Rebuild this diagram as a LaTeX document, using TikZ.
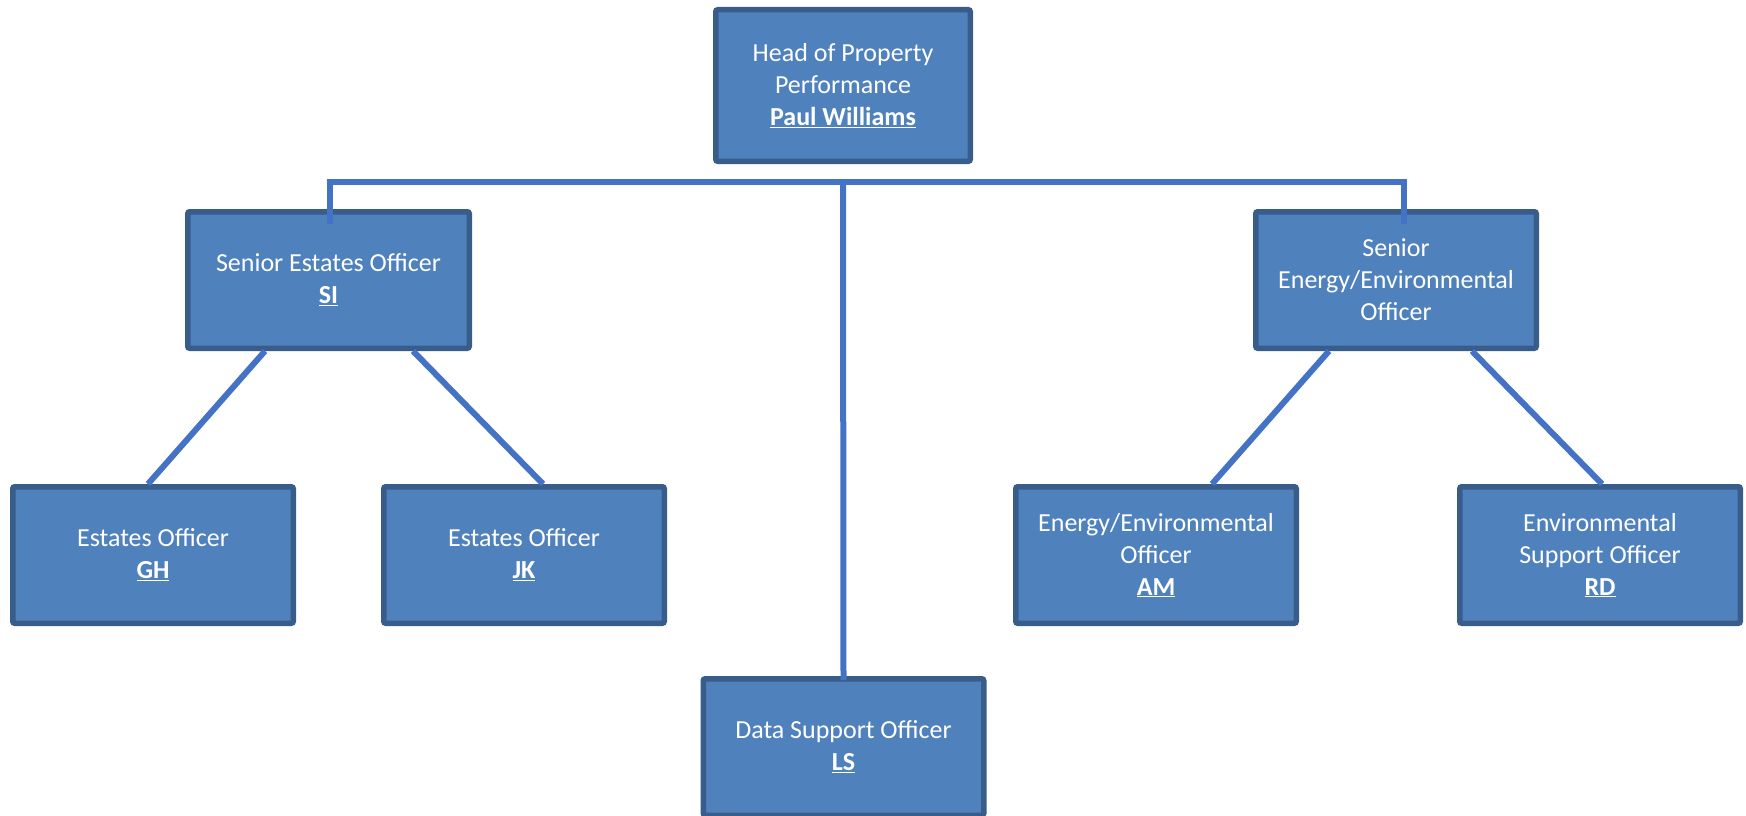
\documentclass[tikz,border=0pt]{standalone}
\usepackage{fontspec}
\setmainfont{Carlito}
\usetikzlibrary{calc}
\definecolor{boxfill}{HTML}{4F81BD}
\definecolor{boxline}{HTML}{385D8A}
\definecolor{conn}{HTML}{4472C4}
\begin{document}
\begin{tikzpicture}[x=1pt,y=-1pt,
  box/.style={draw=boxline, fill=boxfill, line width=5.5pt, rounded corners=2pt,
    text=white, align=center, inner sep=0pt, minimum width=280.5pt,
    minimum height=136.5pt, font=\fontsize{26}{32}\selectfont},
  link/.style={draw=conn, line width=6pt}]
\useasboundingbox (0,0) rectangle (1746,816);
\node[box, minimum width=254.5pt, minimum height=151.5pt] (head) at (843,85.5)
  {Head of Property\\Performance\\\textbf{\underline{Paul Williams}}};
\node[box, minimum width=281.5pt] (seo) at (328.5,280)
  {Senior Estates Officer\\\textbf{\underline{SI}}};
\node[box] (seneo) at (1396,280)
  {Senior\\Energy/Environmental\\Officer};
\node[box] (gh) at (153,555) {Estates Officer\\\textbf{\underline{GH}}};
\node[box] (jk) at (524,555) {Estates Officer\\\textbf{\underline{JK}}};
\node[box] (am) at (1156,555) {Energy/Environmental\\Officer\\\textbf{\underline{AM}}};
\node[box] (rd) at (1600,555) {Environmental\\Support Officer\\\textbf{\underline{RD}}};
\node[box] (data) at (843.5,747) {Data Support Officer\\\textbf{\underline{LS}}};
\coordinate (hub) at ($(head.south)+(0,18)$);
\draw[link] ([xshift=1pt,yshift=-15pt]seo.north) |- (hub) -| ([xshift=7.5pt,yshift=-15pt]seneo.north);
\draw[link] (hub) -- ([yshift=-4pt]data.north);
\draw[link] ([xshift=-63.5pt]seo.south) -- ([xshift=-5pt]gh.north);
\draw[link] ([xshift=84.5pt]seo.south) -- ([xshift=19pt]jk.north);
\draw[link] ([xshift=-67pt]seneo.south) -- ([xshift=56pt]am.north);
\draw[link] ([xshift=76pt]seneo.south) -- ([xshift=2pt]rd.north);
\end{tikzpicture}
\end{document}
